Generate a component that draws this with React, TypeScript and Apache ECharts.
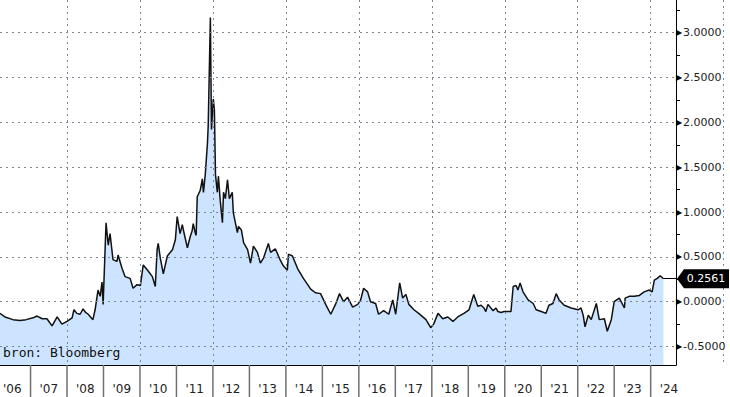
import React, { useEffect, useRef } from "react";
import * as echarts from "echarts";

// Decimal-year dates and values
const dates: number[] = [
  2006.16, 2006.30, 2006.52, 2006.71, 2006.88, 2007.07, 2007.18, 2007.32, 2007.45, 2007.59,
  2007.73, 2007.86, 2008.0, 2008.14, 2008.19, 2008.27, 2008.36, 2008.44, 2008.51, 2008.58,
  2008.71, 2008.77, 2008.85, 2008.91, 2008.96, 2008.99, 2009.07, 2009.13, 2009.18, 2009.26,
  2009.37, 2009.40, 2009.51, 2009.59, 2009.73, 2009.81, 2009.92, 2010.01, 2010.09, 2010.23,
  2010.34, 2010.42, 2010.47, 2010.50, 2010.56, 2010.64, 2010.75, 2010.89, 2010.97, 2011.02,
  2011.10, 2011.16, 2011.19, 2011.30, 2011.38, 2011.43, 2011.46, 2011.52, 2011.54, 2011.57,
  2011.65, 2011.71, 2011.74, 2011.79, 2011.85, 2011.87, 2011.93, 2011.96, 2012.01, 2012.04,
  2012.07, 2012.12, 2012.15, 2012.20, 2012.26, 2012.29, 2012.34, 2012.40, 2012.45, 2012.53,
  2012.56, 2012.67, 2012.70, 2012.78, 2012.84, 2012.95, 2013.03, 2013.11, 2013.22, 2013.30,
  2013.39, 2013.52, 2013.58, 2013.71, 2013.85, 2013.93, 2014.04, 2014.07, 2014.18, 2014.32,
  2014.48, 2014.68, 2014.81, 2014.95, 2015.09, 2015.23, 2015.36, 2015.47, 2015.58, 2015.69,
  2015.83, 2015.97, 2016.05, 2016.13, 2016.24, 2016.32, 2016.46, 2016.54, 2016.68, 2016.82,
  2016.93, 2017.01, 2017.12, 2017.20, 2017.29, 2017.37, 2017.51, 2017.64, 2017.84, 2017.97,
  2018.05, 2018.17, 2018.30, 2018.44, 2018.58, 2018.71, 2018.88, 2019.02, 2019.15, 2019.26,
  2019.35, 2019.43, 2019.48, 2019.54, 2019.68, 2019.76, 2019.81, 2019.90, 2019.98, 2020.17,
  2020.23, 2020.31, 2020.36, 2020.42, 2020.50, 2020.64, 2020.78, 2020.86, 2021.00, 2021.13,
  2021.21, 2021.32, 2021.41, 2021.49, 2021.63, 2021.82, 2022.01, 2022.09, 2022.15, 2022.20,
  2022.29, 2022.37, 2022.51, 2022.59, 2022.73, 2022.81, 2022.92, 2023.0, 2023.14, 2023.28,
  2023.30, 2023.41, 2023.55, 2023.69, 2023.82, 2023.96, 2024.04, 2024.10, 2024.18, 2024.26,
  2024.35,
];

const values: number[] = [
  -0.13, -0.17, -0.2, -0.21, -0.2, -0.18, -0.16, -0.19, -0.19, -0.27,
  -0.17, -0.25, -0.22, -0.18, -0.09, -0.13, -0.14, -0.08, -0.12, -0.14,
  -0.2, -0.09, 0.13, 0.06, 0.22, -0.03, 0.88, 0.63, 0.76, 0.47,
  0.45, 0.52, 0.37, 0.28, 0.26, 0.15, 0.19, 0.18, 0.41, 0.34,
  0.28, 0.17, 0.58, 0.65, 0.48, 0.31, 0.51, 0.58, 0.69, 0.95,
  0.76, 0.86, 0.8, 0.6, 0.73, 0.79, 0.87, 0.76, 0.74, 1.17,
  1.24, 1.37, 1.22, 1.42, 1.77, 1.96, 3.17, 1.92, 2.26, 2.14,
  1.42, 1.22, 1.4, 1.13, 0.88, 1.22, 1.15, 1.36, 1.15, 1.22,
  0.99, 0.77, 0.84, 0.8, 0.66, 0.58, 0.43, 0.62, 0.55, 0.43,
  0.49, 0.65, 0.55, 0.59, 0.46, 0.4, 0.35, 0.53, 0.51, 0.37,
  0.26, 0.14, 0.1, 0.09, -0.03, -0.14, -0.03, 0.09, 0.0, 0.05,
  -0.06, -0.03, 0.02, 0.15, 0.11, 0.0, -0.02, -0.14, -0.1, -0.14,
  0.02, -0.14, 0.21, 0.04, 0.08, -0.03, -0.09, -0.13, -0.2, -0.29,
  -0.25, -0.13, -0.19, -0.17, -0.22, -0.17, -0.13, -0.09, 0.08, -0.05,
  -0.04, -0.07, -0.11, -0.03, -0.1, -0.07, -0.11, -0.12, -0.11, -0.11,
  0.17, 0.18, 0.13, 0.21, 0.11, 0.02, -0.02, -0.09, -0.11, -0.13,
  -0.04, -0.02, 0.09, 0.02, -0.04, -0.07, -0.09, -0.07, -0.15, -0.28,
  -0.15, -0.2, -0.02, -0.2, -0.19, -0.33, -0.2, 0.0, 0.04, -0.07,
  0.04, 0.06, 0.06, 0.07, 0.11, 0.13, 0.11, 0.24, 0.26, 0.29,
  0.2561,
];

const yearTicks: number[] = [2006, 2007, 2008, 2009, 2010, 2011, 2012, 2013, 2014, 2015, 2016, 2017, 2018, 2019, 2020, 2021, 2022, 2023, 2024];
const yLabels: number[] = [-0.5, 0, 0.5, 1.0, 1.5, 2.0, 2.5, 3.0];
const yMinorTicks: number[] = [-0.5, -0.25, 0, 0.25, 0.5, 0.75, 1.0, 1.25, 1.5, 1.75, 2.0, 2.25, 2.5, 2.75, 3.0, 3.25];
const sourceText = "bron: Bloomberg";

// visible axis extents
const X_MIN = 2006.163;
const X_MAX = 2024.694;
const Y_MIN = -0.706;
const Y_MAX = 3.365;

// pixel geometry of the plot (730x397 canvas)
const W = 730;
const H = 397;
const PLOT_RIGHT = 676;
const PLOT_BOTTOM = 365;
const PX_PER_YEAR = PLOT_RIGHT / (X_MAX - X_MIN);
const PX_PER_UNIT = PLOT_BOTTOM / (Y_MAX - Y_MIN);

// helper grids whose axes start on round values
const GX_MIN = 2008; // dotted vertical grid, every 2 years
const GX_MAX = 2026;
const GY_MIN = -0.5; // dotted horizontal grid
const GY_MAX = 3.0;

export default function App() {
  const ref = useRef<HTMLDivElement>(null);
  useEffect(() => {
    if (!ref.current) return;
    const chart = echarts.init(ref.current, undefined, { renderer: "svg" });
    const seriesData = dates.map((d, i) => [d, values[i]]);
    const lastX = dates[dates.length - 1];
    const lastV = values[values.length - 1];
    const dotted = { color: "#7d8794", width: 1, type: [2, 4] as any };
    const xPix = (yr: number) => (yr - X_MIN) * PX_PER_YEAR;
    const yPix = (v: number) => (Y_MAX - v) * PX_PER_UNIT;
    const sepLen = H - PLOT_BOTTOM;

    chart.setOption({
      animation: false,
      backgroundColor: "#ffffff",
      textStyle: { fontFamily: "DejaVu Sans" },
      grid: [
        { left: 0, right: W - PLOT_RIGHT, top: 0, bottom: H - PLOT_BOTTOM, containLabel: false },
        { left: xPix(GX_MIN), right: W - xPix(GX_MAX), top: 0, bottom: H - PLOT_BOTTOM, containLabel: false },
        { left: 0, right: W - PLOT_RIGHT, top: yPix(GY_MAX), bottom: H - yPix(GY_MIN), containLabel: false },
      ],
      xAxis: [
        {
          type: "value",
          gridIndex: 1,
          z: 5,
          min: GX_MIN,
          max: GX_MAX,
          interval: 2,
          axisLine: { show: false, onZero: false },
          axisLabel: { show: false },
          axisTick: { show: false },
          splitLine: { show: true, lineStyle: dotted },
        },
        {
          type: "value",
          gridIndex: 2,
          min: X_MIN,
          max: X_MAX,
          show: false,
          axisLine: { onZero: false },
        },
        {
          type: "value",
          gridIndex: 0,
          position: "bottom",
          z: 6,
          min: X_MIN,
          max: X_MAX,
          axisLine: { show: true, onZero: false, lineStyle: { color: "#000", width: 1 } },
          axisTick: { show: false },
          axisLabel: {
            show: true,
            customValues: yearTicks.map((y) => y + 0.5),
            formatter: (v: number) => "'" + String(Math.floor(v) % 100).padStart(2, "0"),
            color: "#222",
            fontSize: 12,
            fontFamily: "DejaVu Sans",
            margin: 18,
          },
          splitLine: { show: false },
        },
        {
          // year separators below the axis, drawn as label boxes
          type: "value",
          gridIndex: 0,
          position: "bottom",
          z: 7,
          min: X_MIN,
          max: X_MAX,
          axisLine: { show: false, onZero: false },
          axisTick: { show: false },
          splitLine: { show: false },
          axisLabel: {
            show: true,
            customValues: yearTicks.filter((y) => y > X_MIN),
            margin: 0,
            formatter: () => "{s|}",
            rich: {
              s: { width: 1.5, height: sepLen, backgroundColor: "#707070" },
            },
          },
        },
      ],
      yAxis: [
        {
          type: "value",
          gridIndex: 1,
          min: Y_MIN,
          max: Y_MAX,
          show: false,
          axisLine: { onZero: false },
        },
        {
          type: "value",
          gridIndex: 2,
          z: 5,
          min: GY_MIN,
          max: GY_MAX,
          interval: 0.5,
          axisLine: { show: false, onZero: false },
          axisTick: { show: false },
          axisLabel: { show: false },
          splitLine: { show: true, showMinLine: true, showMaxLine: true, lineStyle: dotted },
        },
        {
          type: "value",
          gridIndex: 0,
          position: "right",
          z: 6,
          min: Y_MIN,
          max: Y_MAX,
          axisLine: { show: true, onZero: false, lineStyle: { color: "#000", width: 1 } },
          axisTick: {
            show: true,
            customValues: yMinorTicks,
            length: 4,
            lineStyle: { color: "#000", width: 1 },
          },
          axisLabel: {
            show: true,
            customValues: yLabels,
            margin: 0,
            formatter: (v: number) => "{t|▶}{v|" + v.toFixed(4) + "}",
            rich: {
              t: { color: "#000", fontSize: 8, width: 7, fontFamily: "DejaVu Sans" },
              v: { color: "#222", fontSize: 11, fontFamily: "DejaVu Sans" },
            },
          },
          splitLine: { show: false },
        },
      ],
      series: [
        {
          type: "line",
          xAxisIndex: 2,
          yAxisIndex: 2,
          data: seriesData,
          showSymbol: false,
          symbol: "none",
          clip: false,
          z: 2,
          lineStyle: { color: "#111", width: 1.5 },
          areaStyle: { color: "#cce4ff", opacity: 1, origin: "start" },
          markLine: {
            silent: true,
            symbol: "none",
            label: { show: false },
            animation: false,
            lineStyle: { color: "#000", width: 1, type: "solid" },
            data: [[{ coord: [lastX, lastV] }, { coord: [X_MAX, lastV] }]],
          },
          markPoint: {
            silent: true,
            animation: false,
            data: [
              {
                coord: [X_MAX, lastV],
                symbol: "path://M0,10 L8,0 L60,0 L60,20 L8,20 Z",
                symbolSize: [52, 19],
                symbolOffset: [27, 0],
                itemStyle: { color: "#000" },
                label: {
                  show: true,
                  position: "inside",
                  offset: [3, 0],
                  formatter: lastV.toFixed(4),
                  color: "#fff",
                  fontSize: 11,
                  fontFamily: "DejaVu Sans",
                },
              },
            ],
          },
        },
      ],
      graphic: [
        {
          type: "text",
          left: 3,
          top: 346,
          z: 100,
          silent: true,
          style: {
            text: sourceText,
            fill: "#111",
            fontSize: 13,
            fontFamily: "DejaVu Sans Mono",
          },
        },
      ],
    });
    return () => chart.dispose();
  }, []);
  return <div ref={ref} style={{ width: W, height: H, position: "absolute", left: 0, top: 0 }} />;
}
